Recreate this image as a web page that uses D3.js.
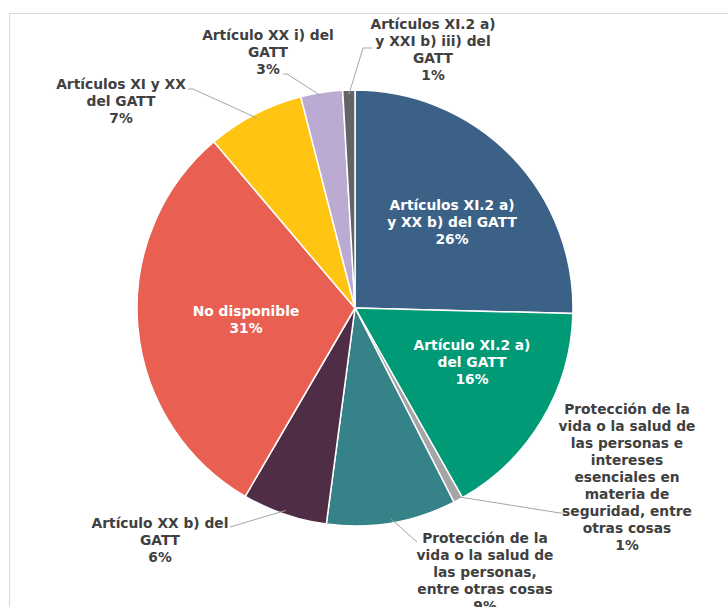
<!doctype html>
<html>
<meta charset="utf-8">
<style>
body { margin: 0; padding: 0; background: #fff; }
svg { display: block; }
text { font-family: 'DejaVu Sans', Verdana, sans-serif; font-weight: bold; font-size: 13.8px; }
</style>
<body>
<svg width="728" height="607"></svg>
<script src="https://cdn.jsdelivr.net/npm/d3@7"></script>
<script>

// slice names (one array entry per text line), shown percent
var categories = [
  ["Artículos XI.2 a)", "y XX b) del GATT"],
  ["Artículo XI.2 a)", "del GATT"],
  ["Protección de la", "vida o la salud de", "las personas e", "intereses", "esenciales en", "materia de", "seguridad, entre", "otras cosas"],
  ["Protección de la", "vida o la salud de", "las personas,", "entre otras cosas"],
  ["Artículo XX b) del", "GATT"],
  ["No disponible"],
  ["Artículos XI y XX", "del GATT"],
  ["Artículo XX i) del", "GATT"],
  ["Artículos XI.2 a)", "y XXI b) iii) del", "GATT"]
];
var values = [25.4, 16.4, 0.7, 9.6, 6.3, 30.4, 7.2, 3.1, 0.9];
var pctLabels = ["26%", "16%", "1%", "9%", "6%", "31%", "7%", "3%", "1%"];
var colors = ["#3B6186", "#009A77", "#A5A5A5", "#358289", "#502D47", "#E95F51", "#FFC512", "#BBABD2", "#646464"];

// label placement: inside (white) or outside (grey) with text centre and leader end
var labelPos = [
  {inside: true, x: 452, y: 205},
  {inside: true, x: 472, y: 345},
  {inside: false, x: 627, y: 409, lx: 560, ly: 513, hx: 565},
  {inside: false, x: 485, y: 538, lx: 417, ly: 542, hx: 417},
  {inside: false, x: 160, y: 523, lx: 230, ly: 527, hx: 230},
  {inside: true, x: 246, y: 311},
  {inside: false, x: 121, y: 84, lx: 193, ly: 89, hx: 188},
  {inside: false, x: 268, y: 35, lx: 287, ly: 74, hx: 283},
  {inside: false, x: 433, y: 24, lx: 363, ly: 48, hx: 372}
];

var svg = d3.select("svg");
var cx = 355, cy = 308, r = 218, lineH = 17;

// chart area border
svg.append("rect")
    .attr("x", 9.5).attr("y", 13.5)
    .attr("width", 740).attr("height", 620)
    .attr("fill", "none")
    .attr("stroke", "#D9D9D9")
    .attr("stroke-width", 1);

var pie = d3.pie().sort(null).value(function(d) { return d; });
var arc = d3.arc().innerRadius(0).outerRadius(r);
var arcs = pie(values);

var g = svg.append("g").attr("transform", "translate(" + cx + "," + cy + ")");

g.selectAll("path")
  .data(arcs)
  .enter().append("path")
    .attr("d", arc)
    .attr("fill", function(d, i) { return colors[i]; })
    .attr("stroke", "#fff")
    .attr("stroke-width", 1.5);

// leader lines for the outside labels
arcs.forEach(function(d, i) {
  var p = labelPos[i];
  if (p.inside) return;
  var a = (d.startAngle + d.endAngle) / 2;
  var sx = cx + Math.sin(a) * (r - 4), sy = cy - Math.cos(a) * (r - 4);
  svg.append("polyline")
      .attr("points", [[sx, sy], [p.lx, p.ly], [p.hx, p.ly]].map(function(q) { return q.join(","); }).join(" "))
      .attr("fill", "none")
      .attr("stroke", "#A6A6A6")
      .attr("stroke-width", 1);
});

// text labels
arcs.forEach(function(d, i) {
  var p = labelPos[i];
  var lines = categories[i].concat([pctLabels[i]]);
  var t = svg.append("text")
      .attr("text-anchor", "middle")
      .attr("fill", p.inside ? "#fff" : "#404040");
  lines.forEach(function(s, k) {
    t.append("tspan")
        .attr("x", p.x)
        .attr("y", p.y + k * lineH)
        .attr("dy", "0.35em")
        .text(s);
  });
});

</script>
</body>
</html>
